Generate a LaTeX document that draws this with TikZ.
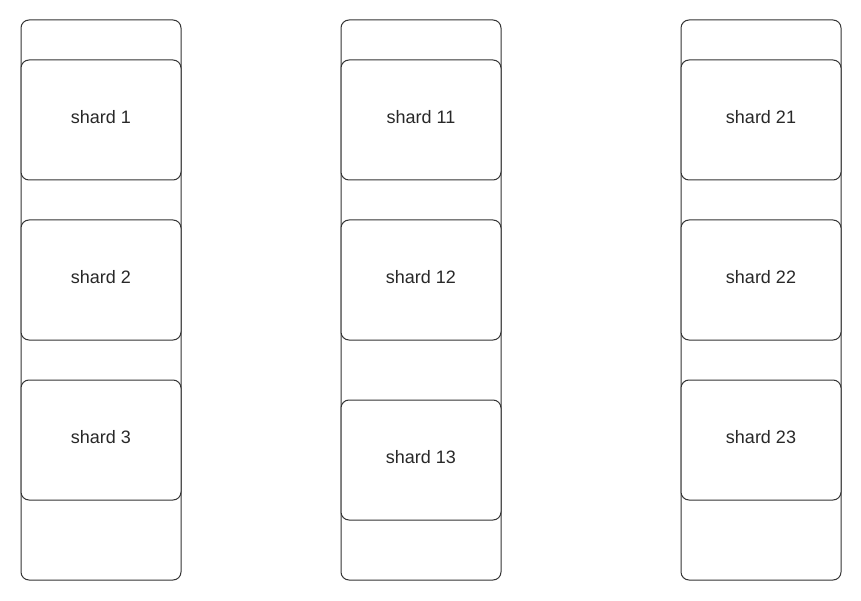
\documentclass[tikz,border=0pt]{standalone}
\usepackage{fontspec}
\setmainfont{Liberation Sans}
\usetikzlibrary{positioning}
\definecolor{edgegray}{RGB}{51,51,51}
\definecolor{textgray}{RGB}{40,40,40}

\begin{document}
\begin{tikzpicture}[x=1pt,y=-1pt]
\tikzstyle{column}=[draw=edgegray,line width=1pt,rounded corners=8pt,
  minimum width=160pt,minimum height=560pt,inner sep=0pt]
\tikzstyle{shard}=[draw=edgegray,fill=white,line width=1pt,rounded corners=8pt,
  minimum width=160pt,minimum height=120pt,inner sep=0pt,text depth=7pt,
  text=textgray,font=\fontsize{18}{21}\selectfont]
\useasboundingbox (0,0) rectangle (861,601);
% the three columns
\node[column] (col1) at (101,300) {};
\node[column] (col2) at (421,300) {};
\node[column] (col3) at (761,300) {};
% first column
\node[shard] (s1) at (101,120) {shard 1};
\node[shard] (s2) at (101,280) {shard 2};
\node[shard] (s3) at (101,440) {shard 3};
% second column
\node[shard] (s11) at (421,120) {shard 11};
\node[shard] (s12) at (421,280) {shard 12};
\node[shard] (s13) at (421,460) {shard 13};
% third column
\node[shard] (s21) at (761,120) {shard 21};
\node[shard] (s22) at (761,280) {shard 22};
\node[shard] (s23) at (761,440) {shard 23};
\end{tikzpicture}
\end{document}
